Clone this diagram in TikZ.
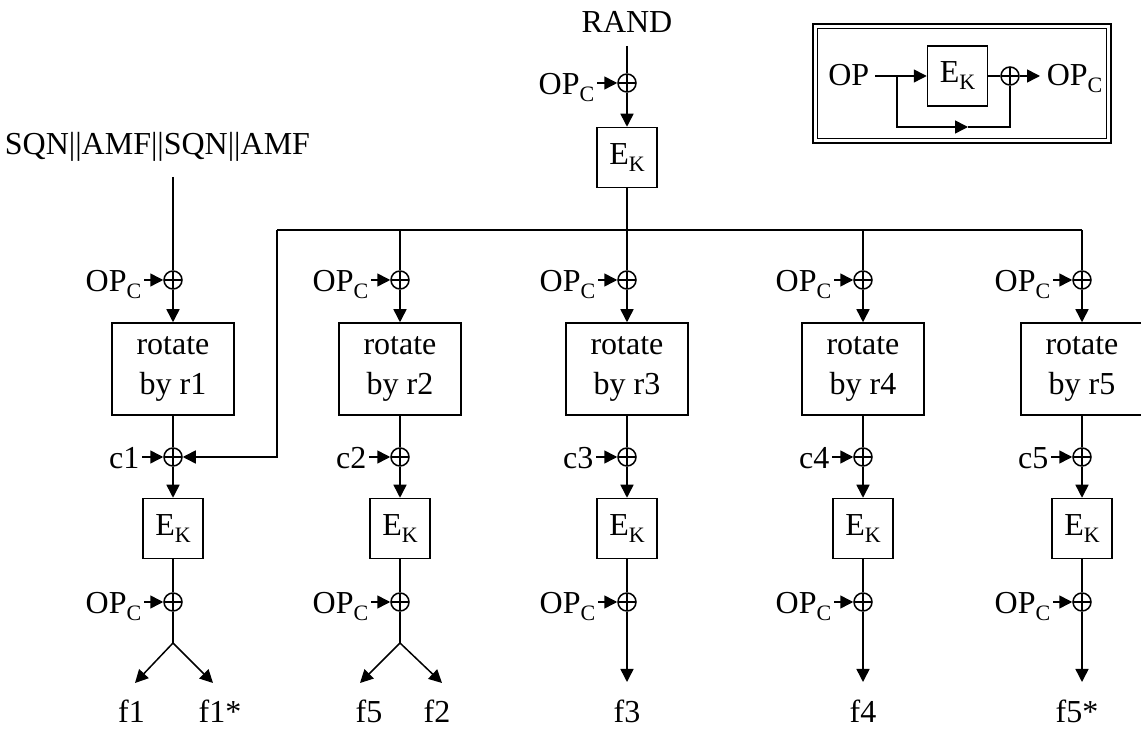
\documentclass[tikz,border=0pt]{standalone}
\usepackage{fontspec}
\setmainfont{Liberation Serif}
\usetikzlibrary{arrows.meta}
\newcommand\subs[1]{\raisebox{-3.5pt}{\fontsize{11}{11}\selectfont #1}}
\begin{document}
\begin{tikzpicture}[x=0.5pt,y=-0.5pt,line width=0.75pt,
  font=\fontsize{16}{20}\selectfont,
  arr/.style={-{Triangle[length=6.5pt,width=6.5pt]}},
  xor/.style={circle,draw,minimum size=9pt,inner sep=0pt,
    path picture={\draw (path picture bounding box.north) -- (path picture bounding box.south)
      (path picture bounding box.west) -- (path picture bounding box.east);}},
  box/.style={draw,inner sep=0pt,align=center},
  rotbox/.style={box,minimum width=61pt,minimum height=46pt},
  ekbox/.style={box,minimum width=30pt,minimum height=30pt},
  lbl/.style={inner sep=0pt}]
\useasboundingbox (0,0) rectangle (1141,731);

% top
\node[lbl,anchor=base,inner ysep=6pt] (rand) at (627,33) {RAND};
\node[xor] (x0) at (627,83) {};
\node[lbl,anchor=base east] (op0) at (595,95) {OP\subs{C}};
\node[ekbox] (ek0) at (627,157.5) {E\subs{K}};
\coordinate (busL) at (277,230);
\coordinate (busR) at (1082,230);
\draw (rand) -- (x0);
\draw[arr,shorten <=1pt] (op0.east |- x0) -- (x0.west);
\draw[arr] (x0) -- (ek0);
\draw (ek0) -- (ek0.south |- busL);
\draw (busR) -- (busL);

% SQN input
\node[lbl,anchor=base] (sqn) at (157.5,155) {SQN||AMF||SQN||AMF};
\coordinate (sqnend) at (173,177);

% columns
\foreach \i/\cx in {1/173,2/400,3/627,4/863,5/1082} {
  \node[xor] (xa\i) at (\cx,280) {};
  \node[lbl,anchor=base east] (opa\i) at (\cx-31,292) {OP\subs{C}};
  \node[rotbox] (rot\i) at (\cx,369) {rotate\\by r\i};
  \node[xor] (xc\i) at (\cx,457) {};
  \node[lbl,anchor=base east] (c\i) at (\cx-33,469) {c\i};
  \node[ekbox] (ek\i) at (\cx,528.5) {E\subs{K}};
  \node[xor] (xb\i) at (\cx,602) {};
  \node[lbl,anchor=base east] (opb\i) at (\cx-31,614) {OP\subs{C}};
  \coordinate (tap\i) at (\cx,230);
  \draw[arr,shorten <=1pt] (opa\i.east |- xa\i) -- (xa\i.west);
  \draw[arr,shorten <=1pt] (c\i.east |- xc\i) -- (xc\i.west);
  \draw[arr,shorten <=1pt] (opb\i.east |- xb\i) -- (xb\i.west);
  \draw[arr] (xa\i) -- (rot\i);
  \draw (rot\i) -- (xc\i);
  \draw[arr] (xc\i) -- (ek\i);
  \draw (ek\i) -- (xb\i);
}
\draw (sqnend) -- (xa1);
\foreach \i in {2,3,4,5} { \draw (tap\i) -- (xa\i); }
\draw[arr] (busL) -- (busL |- xc1) -- (xc1.east);

% outputs
\coordinate (sp1) at (173,643);
\coordinate (t1a) at (135,683);
\coordinate (t1b) at (213,683);
\coordinate (sp2) at (400,643);
\coordinate (t2a) at (360,683);
\coordinate (t2b) at (442,683);
\coordinate (t3) at (627,682);
\coordinate (t4) at (863,682);
\coordinate (t5) at (1082,682);
\draw (xb1) -- (sp1);
\draw[arr] (sp1) -- (t1a);
\draw[arr] (sp1) -- (t1b);
\draw (xb2) -- (sp2);
\draw[arr] (sp2) -- (t2a);
\draw[arr] (sp2) -- (t2b);
\draw[arr] (xb3) -- (t3);
\draw[arr] (xb4) -- (t4);
\draw[arr] (xb5) -- (t5);
\node[lbl,anchor=base] (f1) at (131.5,723) {f1};
\node[lbl,anchor=base] (f1s) at (220,723) {f1*};
\node[lbl,anchor=base] (f5) at (369,723) {f5};
\node[lbl,anchor=base] (f2) at (437,723) {f2};
\node[lbl,anchor=base] (f3) at (627,723) {f3};
\node[lbl,anchor=base] (f4) at (863,723) {f4};
\node[lbl,anchor=base] (f5s) at (1077,723) {f5*};

% inset
\draw[line width=1pt] (813,24) rectangle (1111,143);
\draw (817.5,28.5) rectangle (1106.5,138.5);
\node[lbl,anchor=base east] (opin) at (870,86) {OP};
\node[ekbox] (ekin) at (957.5,76) {E\subs{K}};
\node[xor] (xin) at (1010,76) {};
\node[lbl,anchor=base west] (opout) at (1046,86) {OP\subs{C}};
\coordinate (br) at (897,76);
\coordinate (bl) at (897,127);
\coordinate (bm) at (968,127);
\draw[arr,shorten <=2.5pt] (opin.east |- ekin) -- (ekin.west);
\draw (ekin) -- (xin);
\draw[arr,shorten >=3pt] (xin) -- (opout.west |- xin);
\draw[arr] (br) -- (bl) -- (bm);
\draw (bm) -- (xin |- bl) -- (xin.south);
\end{tikzpicture}
\end{document}
